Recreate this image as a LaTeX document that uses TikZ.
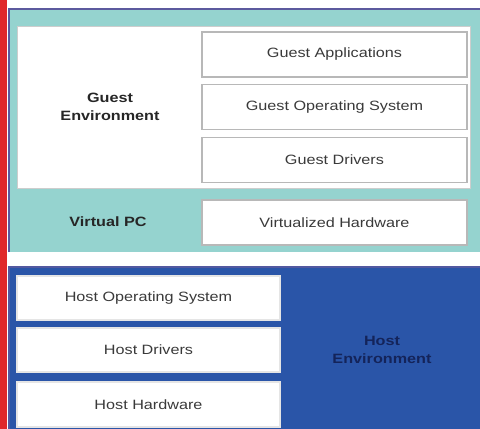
\documentclass[tikz,border=0pt]{standalone}
\usepackage{fontspec}
\setmainfont{Liberation Sans}[FakeStretch=1.2]
\definecolor{redbar}{HTML}{E0282A}
\definecolor{tealbg}{HTML}{95D3CF}
\definecolor{bluebg}{HTML}{2A55A8}
\definecolor{edgepurple}{HTML}{5C5A9E}
\definecolor{boxedge}{HTML}{B8B8B8}
\definecolor{txt}{HTML}{3A3A3A}
\definecolor{navy}{HTML}{14245A}
\tikzset{
  layerbox/.style={draw=boxedge, line width=1.2pt, fill=white, text=txt,
    minimum width=265, minimum height=45, inner sep=0pt,
    font=\fontsize{13.5}{16}\selectfont},
  hostbox/.style={layerbox, draw=white!90!black, minimum width=263, minimum height=44},
  biglabel/.style={align=center, font=\fontsize{13.5}{18}\selectfont\bfseries, text=black!85}
}
\begin{document}
\begin{tikzpicture}[x=1pt,y=-1pt]
\useasboundingbox (0,0) rectangle (480,429);
\fill[white] (0,0) rectangle (480,429);
% red bar
\fill[redbar] (0,0) rectangle (7,429);
% teal panel
\fill[tealbg] (8,8) rectangle (480,252);
\draw[edgepurple, line width=1.5pt] (8.75,252) -- (8.75,8.75) -- (480,8.75);
% guest environment white panel
\node[draw=boxedge!70, line width=1pt, fill=white, minimum width=453, minimum height=162, inner sep=0pt] (guestpanel) at (243.5,107) {};
\node[biglabel] (guestlbl) at (110,107) {Guest\\Environment};
\node[layerbox] (gapp) at (334.5,54.5) {Guest Applications};
\node[layerbox] (gos) at (334.5,107) {Guest Operating System};
\node[layerbox] (gdrv) at (334.5,160) {Guest Drivers};
\node[layerbox] (vhw) at (334.5,222.5) {Virtualized Hardware};
\node[biglabel] (vpc) at (108,222) {Virtual PC};
% blue panel
\fill[bluebg] (8,266) rectangle (480,429);
\draw[edgepurple!80!bluebg, line width=1.5pt] (8.75,429) -- (8.75,266.75) -- (480,266.75);
\node[hostbox] (hos) at (148.5,298) {Host Operating System};
\node[hostbox] (hdrv) at (148.5,350) {Host Drivers};
\node[hostbox, minimum height=45] (hhw) at (148.5,404.5) {Host Hardware};
\node[biglabel, text=navy] (hostlbl) at (382,350) {Host\\Environment};
\end{tikzpicture}
\end{document}
